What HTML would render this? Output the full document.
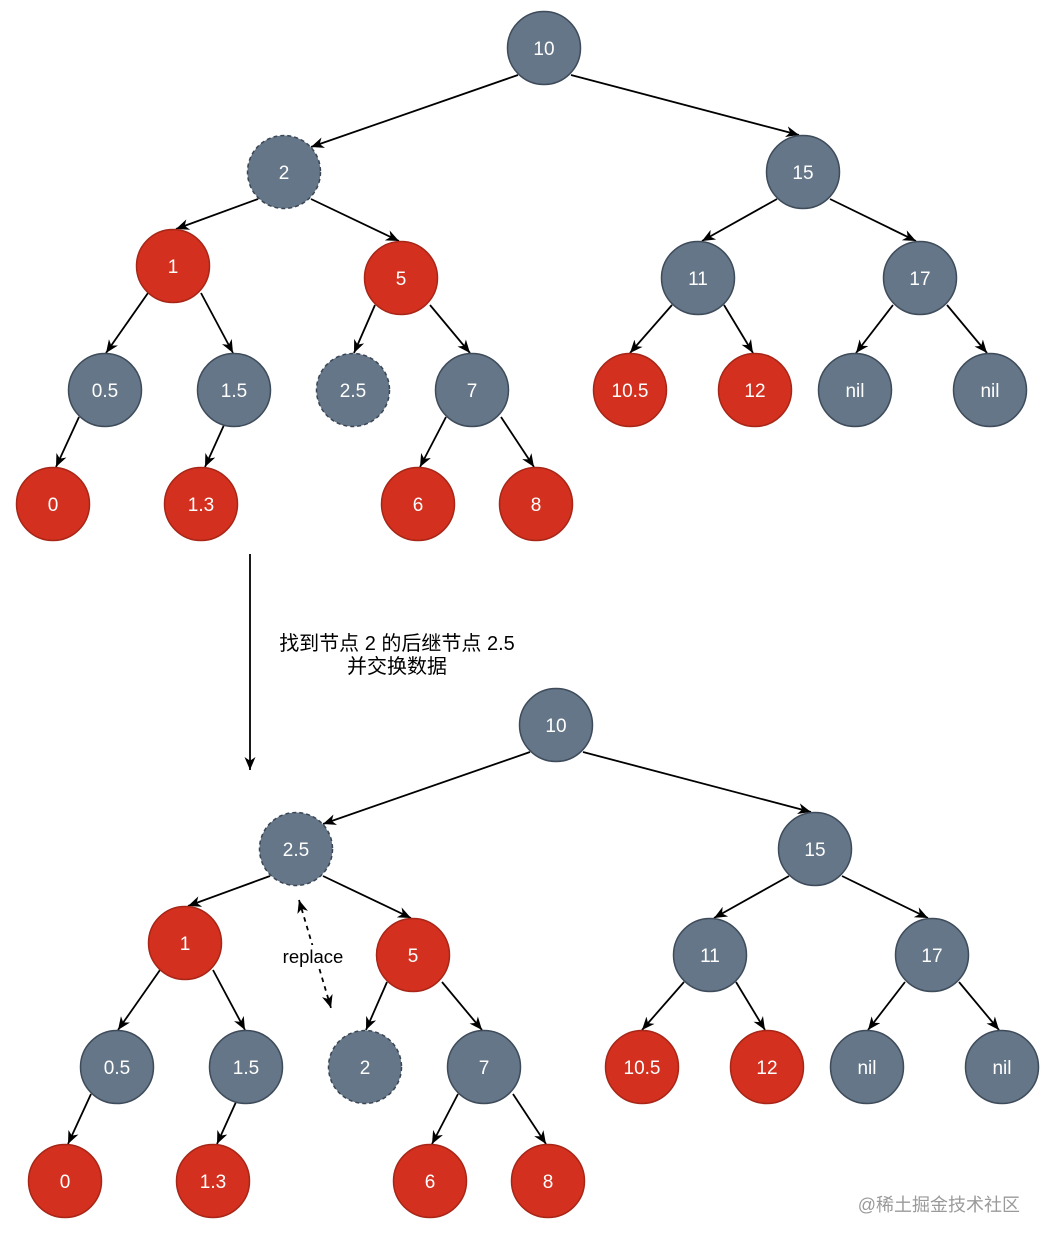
<!DOCTYPE html>
<html><head><meta charset="utf-8"><style>
html,body{margin:0;padding:0;background:#fff;}
svg{display:block;}
.t{font-family:"Liberation Sans","Noto Sans CJK SC",sans-serif;}
.n{font-family:"Liberation Sans",sans-serif;font-size:19px;fill:#fff;text-anchor:middle;}
</style></head><body>
<svg width="1052" height="1246" viewBox="0 0 1052 1246" xmlns="http://www.w3.org/2000/svg">
<defs>
<marker id="a" viewBox="0 0 13 11" refX="13" refY="5.5" markerWidth="13" markerHeight="11" orient="auto-start-reverse" markerUnits="userSpaceOnUse"><path d="M0,0 L13,5.5 L0,11 L3.8,5.5 z" fill="#000"/></marker>
<g id="tree">
<g stroke="#000" stroke-width="1.8" fill="none" marker-end="url(#a)">
<line x1="518" y1="75" x2="311" y2="147"/>
<line x1="571" y1="75" x2="799" y2="135"/>
<line x1="258" y1="199" x2="176" y2="229"/>
<line x1="311" y1="199" x2="399" y2="241"/>
<line x1="777" y1="199" x2="702" y2="241"/>
<line x1="830" y1="199" x2="916" y2="241"/>
<line x1="148" y1="293" x2="106" y2="353"/>
<line x1="201" y1="293" x2="233" y2="353"/>
<line x1="375" y1="305" x2="354" y2="353"/>
<line x1="430" y1="305" x2="470" y2="353"/>
<line x1="672" y1="305" x2="630" y2="353"/>
<line x1="724" y1="305" x2="753" y2="353"/>
<line x1="893" y1="305" x2="856" y2="353"/>
<line x1="947" y1="305" x2="987" y2="353"/>
<line x1="79" y1="417" x2="56" y2="467"/>
<line x1="224" y1="425" x2="205" y2="467"/>
<line x1="446" y1="417" x2="420" y2="467"/>
<line x1="501" y1="417" x2="534" y2="467"/>
</g>
<g stroke-width="1.5">
<g fill="#647687" stroke="#3e4b5b">
<circle cx="544" cy="48" r="36.5"/>
<circle cx="803" cy="172" r="36.5"/>
<circle cx="698" cy="278" r="36.5"/>
<circle cx="920" cy="278" r="36.5"/>
<circle cx="105" cy="390" r="36.5"/>
<circle cx="234" cy="390" r="36.5"/>
<circle cx="472" cy="390" r="36.5"/>
<circle cx="855" cy="390" r="36.5"/>
<circle cx="990" cy="390" r="36.5"/>
</g>
<g fill="#647687" stroke="#3a4656" stroke-dasharray="4 3">
<circle cx="284" cy="172" r="36.5"/>
<circle cx="353" cy="390" r="36.5"/>
</g>
<g fill="#d3301f" stroke="#a82617">
<circle cx="173" cy="266" r="36.5"/>
<circle cx="401" cy="278" r="36.5"/>
<circle cx="630" cy="390" r="36.5"/>
<circle cx="755" cy="390" r="36.5"/>
<circle cx="53" cy="504" r="36.5"/>
<circle cx="201" cy="504" r="36.5"/>
<circle cx="418" cy="504" r="36.5"/>
<circle cx="536" cy="504" r="36.5"/>
</g>
</g>
<g class="n">
<text x="544" y="55">10</text>
<text x="803" y="179">15</text>
<text x="173" y="273">1</text>
<text x="401" y="285">5</text>
<text x="698" y="285">11</text>
<text x="920" y="285">17</text>
<text x="105" y="397">0.5</text>
<text x="234" y="397">1.5</text>
<text x="472" y="397">7</text>
<text x="630" y="397">10.5</text>
<text x="755" y="397">12</text>
<text x="855" y="397">nil</text>
<text x="990" y="397">nil</text>
<text x="53" y="511">0</text>
<text x="201" y="511">1.3</text>
<text x="418" y="511">6</text>
<text x="536" y="511">8</text>
</g>
</g>
</defs>

<!-- top tree -->
<use href="#tree"/>
<g class="n">
<text x="284" y="179">2</text>
<text x="353" y="397">2.5</text>
</g>

<!-- bottom tree -->
<g transform="translate(12,677)">
<use href="#tree"/>
<g class="n">
<text x="284" y="179">2.5</text>
<text x="353" y="397">2</text>
</g>
</g>

<!-- big arrow -->
<line x1="250" y1="554" x2="250" y2="770" stroke="#000" stroke-width="1.8" marker-end="url(#a)"/>
<g class="t" font-size="20" fill="#000" text-anchor="middle">
<text x="397" y="650">找到节点 2 的后继节点 2.5</text>
<text x="397" y="673">并交换数据</text>
</g>

<!-- replace arrow -->
<line x1="299" y1="900" x2="331" y2="1008" stroke="#000" stroke-width="1.8" stroke-dasharray="4.5 4.5" marker-start="url(#a)" marker-end="url(#a)"/>
<rect x="281" y="945" width="65" height="22" fill="#fff"/>
<text x="313" y="963" class="t" font-size="18.5" fill="#000" text-anchor="middle">replace</text>

<!-- watermark -->
<text x="1020" y="1211" class="t" font-size="18" fill="#9a9a9a" text-anchor="end">@稀土掘金技术社区</text>
</svg>
</body></html>
